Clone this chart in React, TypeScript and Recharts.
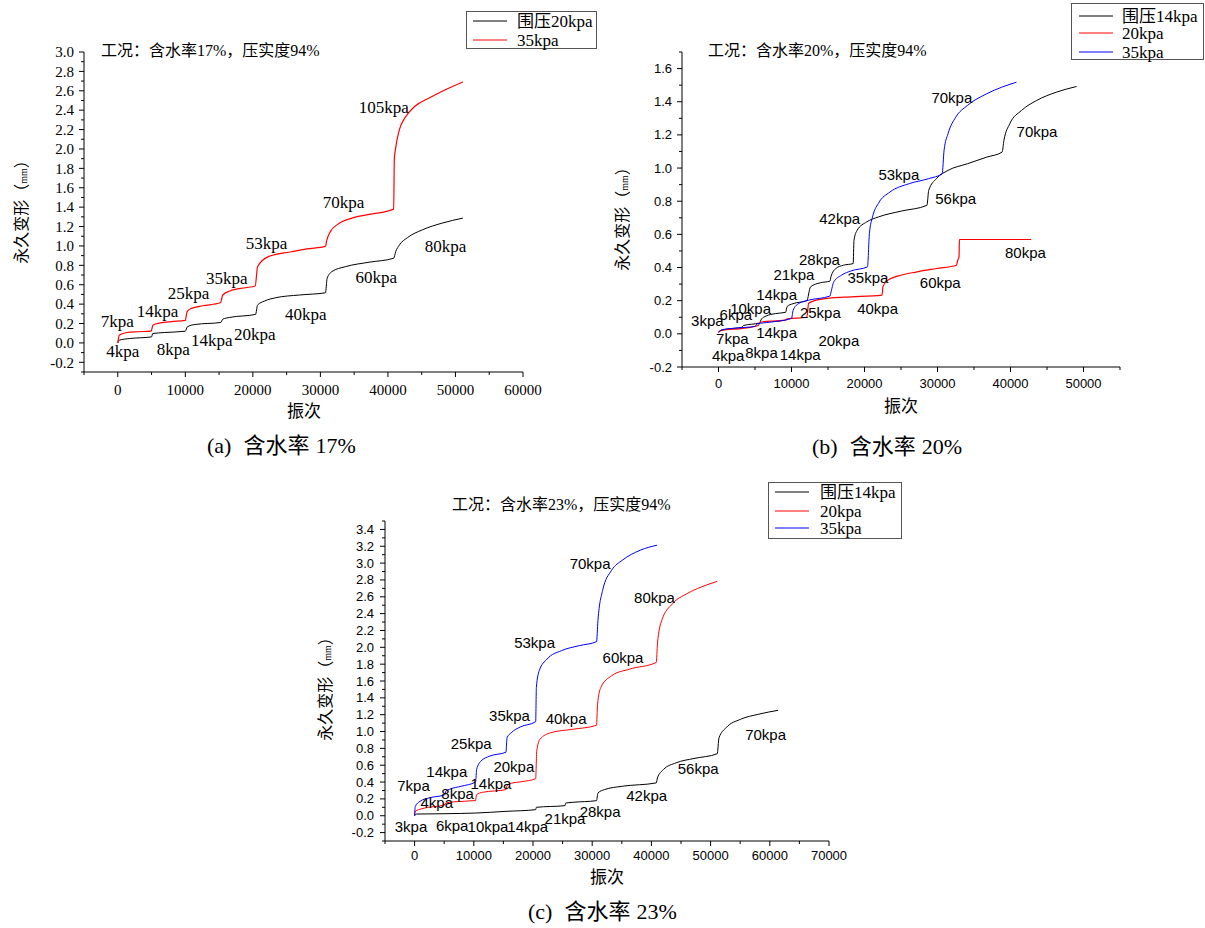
import React from 'react';
import { LineChart, Line, XAxis, YAxis, ReferenceDot } from 'recharts';

type Pt = [number, number];
type Note = { text: string; x: number; y: number };

// (a) 含水率17%
const a20: Pt[] = [
  [0, 0.0], [220, 0.028], [1760, 0.045], [5000, 0.062], [5180, 0.097], [6900, 0.107], [10000, 0.121],
  [10300, 0.166], [11450, 0.19], [15250, 0.211], [15550, 0.245], [16600, 0.263], [20400, 0.294],
  [20700, 0.39], [21700, 0.431], [23400, 0.466], [26900, 0.494], [30750, 0.517], [31000, 0.666],
  [31700, 0.735], [33700, 0.786], [37200, 0.832], [40850, 0.873], [41150, 0.941], [41700, 1.01],
  [42900, 1.086], [45100, 1.166], [48000, 1.235], [51100, 1.287],
];
const a35: Pt[] = [
  [0, 0.0], [220, 0.08], [1200, 0.105], [3000, 0.115], [4950, 0.122], [5200, 0.183], [6300, 0.207],
  [8000, 0.22], [10000, 0.232], [10250, 0.32], [10900, 0.356], [12600, 0.383], [15200, 0.414],
  [15550, 0.494], [16600, 0.535], [18900, 0.569], [20350, 0.587], [20700, 0.786], [22300, 0.89],
  [25700, 0.94], [28000, 0.97], [30750, 0.995], [30950, 1.06], [31500, 1.15], [32500, 1.22],
  [34800, 1.29], [37700, 1.33], [40850, 1.38], [40950, 1.9], [41100, 1.99], [41700, 2.2],
  [42500, 2.32], [44000, 2.44], [46250, 2.53], [48500, 2.61], [51100, 2.69],
];

// (b) 含水率20%
const b14: Pt[] = [
  [0, 0.01], [300, 0.02], [1500, 0.03], [3200, 0.04], [3400, 0.05], [4500, 0.058], [5600, 0.065],
  [5900, 0.09], [6500, 0.107], [7800, 0.122], [9200, 0.13], [9400, 0.165], [10200, 0.182],
  [12100, 0.2], [12600, 0.283], [13950, 0.308], [15270, 0.318], [15400, 0.344], [16070, 0.394],
  [17130, 0.414], [18450, 0.424], [18560, 0.565], [19000, 0.625], [20300, 0.675], [21900, 0.705],
  [25100, 0.741], [28550, 0.775], [28800, 0.866], [29850, 0.936], [31450, 0.986], [34100, 1.026],
  [36750, 1.066], [38850, 1.096], [39100, 1.167], [39900, 1.267], [41500, 1.347], [43600, 1.408],
  [46300, 1.458], [49050, 1.492],
];
const b20: Pt[] = [
  [0, 0.01], [500, 0.022], [3300, 0.033], [5450, 0.05], [5700, 0.07], [9150, 0.083], [9400, 0.09],
  [12100, 0.1], [12350, 0.184], [13400, 0.203], [15500, 0.217], [18200, 0.223], [22400, 0.234],
  [22530, 0.284], [23220, 0.324], [24550, 0.348], [27200, 0.374], [29850, 0.394], [32600, 0.414],
  [32770, 0.444], [32950, 0.464], [33000, 0.569], [42830, 0.569],
];
const b35: Pt[] = [
  [0, 0.01], [500, 0.025], [2500, 0.035], [5000, 0.045], [5300, 0.06], [7000, 0.07], [10000, 0.093],
  [10230, 0.143], [11030, 0.184], [12360, 0.203], [15270, 0.228], [15370, 0.244], [15800, 0.314],
  [16860, 0.354], [18180, 0.38], [20410, 0.404], [20670, 0.605], [21100, 0.705], [21890, 0.786],
  [23480, 0.855], [26130, 0.906], [28780, 0.936], [30640, 0.966], [30900, 1.107], [31440, 1.207],
  [32500, 1.307], [34080, 1.377], [36740, 1.448], [40820, 1.518],
];

// (c) 含水率23%
const c14: Pt[] = [
  [0, 0.0], [300, 0.02], [5140, 0.024], [10280, 0.032], [15430, 0.052], [20450, 0.072], [20570, 0.1],
  [25410, 0.12], [25530, 0.151], [26620, 0.159], [30730, 0.179], [30970, 0.27], [32060, 0.31],
  [35090, 0.35], [40830, 0.39], [41020, 0.449], [42040, 0.549], [44160, 0.628], [47190, 0.68],
  [51120, 0.736], [51420, 0.926], [52630, 1.046], [55050, 1.145], [58080, 1.205], [61400, 1.252],
];
const c20: Pt[] = [
  [0, 0.0], [120, 0.052], [1210, 0.083], [5140, 0.131], [5260, 0.151], [6650, 0.165], [10280, 0.18],
  [10470, 0.25], [11490, 0.278], [15430, 0.31], [15550, 0.35], [16330, 0.385], [18150, 0.405],
  [20450, 0.44], [20630, 0.767], [21170, 0.907], [22990, 0.986], [26620, 1.026], [30730, 1.074],
  [30910, 1.324], [31460, 1.523], [33270, 1.662], [36300, 1.741], [40830, 1.821], [41020, 2.04],
  [41740, 2.318], [43560, 2.517], [45980, 2.636], [48400, 2.716], [51120, 2.783],
];
const c35: Pt[] = [
  [0, 0.0], [120, 0.111], [910, 0.171], [2420, 0.211], [5140, 0.25], [5260, 0.29], [6050, 0.318],
  [7860, 0.35], [10280, 0.4], [10350, 0.43], [10470, 0.549], [11190, 0.648], [12700, 0.708],
  [15430, 0.755], [15610, 0.926], [16330, 0.986], [17850, 1.054], [20450, 1.117], [20570, 1.523],
  [21050, 1.722], [22380, 1.861], [24800, 1.96], [27830, 2.02], [30730, 2.067], [30970, 2.318],
  [31760, 2.676], [33270, 2.914], [35090, 3.034], [38110, 3.153], [40960, 3.213],
];

const notesA: Note[] = [
  { text: '105kpa', x: 39400, y: 2.43 }, { text: '70kpa', x: 33420, y: 1.453 },
  { text: '53kpa', x: 22010, y: 1.028 }, { text: '35kpa', x: 16140, y: 0.673 },
  { text: '25kpa', x: 10490, y: 0.517 }, { text: '14kpa', x: 5870, y: 0.331 },
  { text: '7kpa', x: -70, y: 0.228 }, { text: '4kpa', x: 730, y: -0.086 },
  { text: '8kpa', x: 8200, y: -0.058 }, { text: '14kpa', x: 13910, y: 0.035 },
  { text: '20kpa', x: 20300, y: 0.097 }, { text: '40kpa', x: 27830, y: 0.297 },
  { text: '60kpa', x: 38260, y: 0.677 }, { text: '80kpa', x: 48530, y: 1.0 },
];
const notesB: Note[] = [
  { text: '70kpa', x: 31970, y: 1.427 }, { text: '70kpa', x: 43630, y: 1.217 },
  { text: '53kpa', x: 24710, y: 0.96 }, { text: '56kpa', x: 32490, y: 0.816 },
  { text: '42kpa', x: 16600, y: 0.695 }, { text: '80kpa', x: 42040, y: 0.49 },
  { text: '28kpa', x: 13830, y: 0.448 }, { text: '21kpa', x: 10340, y: 0.354 },
  { text: '35kpa', x: 20470, y: 0.338 }, { text: '60kpa', x: 30380, y: 0.31 },
  { text: '14kpa', x: 7960, y: 0.238 }, { text: '40kpa', x: 21790, y: 0.153 },
  { text: '10kpa', x: 4400, y: 0.153 }, { text: '6kpa', x: 2380, y: 0.113 },
  { text: '25kpa', x: 13950, y: 0.129 }, { text: '3kpa', x: -1530, y: 0.077 },
  { text: '7kpa', x: 1900, y: -0.027 }, { text: '14kpa', x: 7960, y: 0.009 },
  { text: '20kpa', x: 16490, y: -0.042 }, { text: '4kpa', x: 1330, y: -0.132 },
  { text: '8kpa', x: 5890, y: -0.114 }, { text: '14kpa', x: 11190, y: -0.128 },
];
const notesC: Note[] = [
  { text: '70kpa', x: 29640, y: 2.994 }, { text: '80kpa', x: 40530, y: 2.584 },
  { text: '53kpa', x: 20270, y: 2.052 }, { text: '60kpa', x: 35210, y: 1.881 },
  { text: '35kpa', x: 16030, y: 1.185 }, { text: '40kpa', x: 25590, y: 1.157 },
  { text: '25kpa', x: 9560, y: 0.859 }, { text: '70kpa', x: 59290, y: 0.966 },
  { text: '20kpa', x: 16760, y: 0.58 }, { text: '56kpa', x: 47910, y: 0.561 },
  { text: '14kpa', x: 5440, y: 0.521 }, { text: '14kpa', x: 12890, y: 0.382 },
  { text: '7kpa', x: -180, y: 0.362 }, { text: '8kpa', x: 7260, y: 0.258 },
  { text: '42kpa', x: 39200, y: 0.239 }, { text: '4kpa', x: 3750, y: 0.151 },
  { text: '28kpa', x: 31340, y: 0.044 }, { text: '21kpa', x: 25410, y: -0.036 },
  { text: '3kpa', x: -600, y: -0.135 }, { text: '6kpa', x: 6350, y: -0.115 },
  { text: '10kpa', x: 12400, y: -0.135 }, { text: '14kpa', x: 19120, y: -0.135 },
];

// ticks
const xMajA = [0, 10000, 20000, 30000, 40000, 50000, 60000];
const xMinA = [-5000, 5000, 15000, 25000, 35000, 45000, 55000];
const yMajA = [-0.2, 0, 0.2, 0.4, 0.6, 0.8, 1.0, 1.2, 1.4, 1.6, 1.8, 2.0, 2.2, 2.4, 2.6, 2.8, 3.0];
const yMinA = [-0.3, -0.1, 0.1, 0.3, 0.5, 0.7, 0.9, 1.1, 1.3, 1.5, 1.7, 1.9, 2.1, 2.3, 2.5, 2.7, 2.9];
const xMajB = [0, 10000, 20000, 30000, 40000, 50000];
const xMinB = [-5000, 5000, 15000, 25000, 35000, 45000, 55000];
const yMajB = [-0.2, 0, 0.2, 0.4, 0.6, 0.8, 1.0, 1.2, 1.4, 1.6];
const yMinB = [-0.1, 0.1, 0.3, 0.5, 0.7, 0.9, 1.1, 1.3, 1.5, 1.7];
const xMajC = [0, 10000, 20000, 30000, 40000, 50000, 60000, 70000];
const xMinC = [-5000, 5000, 15000, 25000, 35000, 45000, 55000, 65000];
const yMajC = [-0.2, 0, 0.2, 0.4, 0.6, 0.8, 1.0, 1.2, 1.4, 1.6, 1.8, 2.0, 2.2, 2.4, 2.6, 2.8, 3.0, 3.2, 3.4];
const yMinC = [-0.3, -0.1, 0.1, 0.3, 0.5, 0.7, 0.9, 1.1, 1.3, 1.5, 1.7, 1.9, 2.1, 2.3, 2.5, 2.7, 2.9, 3.1, 3.3, 3.5];

const SERIF = '"Liberation Serif", "Noto Sans CJK SC", serif';
const SANS = '"Liberation Sans", Arial, sans-serif';

const rows = (pts: Pt[]) => pts.map(([x, y]) => ({ x, y }));

const makeTick = (majors: number[], dir: 'x' | 'y', font: string, size: number, gap: number) =>
  (props: any) => {
    const { x, y, payload } = props;
    const v = payload.value as number;
    const major = majors.some((m) => Math.abs(m - v) < 1e-6);
    const len = major ? 5 : 3;
    if (dir === 'y') {
      return (
        <g>
          <line x1={x} y1={y} x2={x - len} y2={y} stroke="#000" strokeWidth={1} />
          {major && (
            <text x={x - gap} y={y} dy="0.35em" textAnchor="end" fontFamily={font} fontSize={size} fill="#000">
              {v.toFixed(1)}
            </text>
          )}
        </g>
      );
    }
    return (
      <g>
        <line x1={x} y1={y} x2={x} y2={y + len} stroke="#000" strokeWidth={1} />
        {major && (
          <text x={x} y={y + gap} dy="0.35em" textAnchor="middle" fontFamily={font} fontSize={size} fill="#000">
            {String(v)}
          </text>
        )}
      </g>
    );
  };

type Series = { pts: Pt[]; color: string; width: number };

type PanelProps = {
  left: number; top: number; width: number; height: number;
  yW: number; xH: number; mTop: number; mRight: number;
  xDomain: [number, number]; yDomain: [number, number];
  xMaj: number[]; xMin: number[]; yMaj: number[]; yMin: number[];
  tickFont: string; tickSize: number; xGap: number; yGap: number;
  series: Series[]; notes: Note[]; noteFont: string; noteSize: number;
};

const Panel = (p: PanelProps) => (
  <div style={{ position: 'absolute', left: p.left, top: p.top }}>
    <LineChart width={p.width} height={p.height} margin={{ top: p.mTop, right: p.mRight, left: 0, bottom: 0 }}>
      <XAxis
        type="number"
        dataKey="x"
        domain={p.xDomain}
        ticks={[...p.xMin, ...p.xMaj]}
        interval={0}
        height={p.xH}
        tickSize={0}
        tickMargin={0}
        tickLine={false}
        axisLine={{ stroke: '#000' }}
        allowDataOverflow
        tick={makeTick(p.xMaj, 'x', p.tickFont, p.tickSize, p.xGap)}
      />
      <YAxis
        type="number"
        dataKey="y"
        domain={p.yDomain}
        ticks={[...p.yMin, ...p.yMaj]}
        interval={0}
        width={p.yW}
        tickSize={0}
        tickMargin={0}
        tickLine={false}
        axisLine={{ stroke: '#000' }}
        allowDataOverflow
        tick={makeTick(p.yMaj, 'y', p.tickFont, p.tickSize, p.yGap)}
      />
      {p.series.map((s, i) => (
        <Line
          key={i}
          data={rows(s.pts)}
          dataKey="y"
          type="monotone"
          stroke={s.color}
          strokeWidth={s.width}
          dot={false}
          activeDot={false}
          isAnimationActive={false}
        />
      ))}
      {p.notes.map((n, i) => (
        <ReferenceDot
          key={'n' + i}
          x={n.x}
          y={n.y}
          r={0}
          fill="none"
          stroke="none"
          ifOverflow="visible"
          label={{ value: n.text, position: 'center', fill: '#000', fontSize: p.noteSize, fontFamily: p.noteFont }}
        />
      ))}
    </LineChart>
  </div>
);

type LegendProps = { x: number; y: number; w: number; h: number; lx: number; tx: number; rowsY: number[]; items: { label: string; color: string }[] };

const LegendBox = (l: LegendProps) => (
  <g>
    <rect x={l.x + 0.5} y={l.y + 0.5} width={l.w} height={l.h} fill="#fff" stroke="#555" strokeWidth={1} />
    {l.items.map((it, i) => (
      <g key={i}>
        <line x1={l.x + l.lx} x2={l.x + l.lx + 34} y1={l.y + l.rowsY[i]} y2={l.y + l.rowsY[i]} stroke={it.color} strokeWidth={1} />
        <text x={l.x + l.tx} y={l.y + l.rowsY[i]} dy="0.36em" fontFamily={SERIF} fontSize={17} fill="#000">
          {it.label}
        </text>
      </g>
    ))}
  </g>
);

const YLabel = ({ cx, cy }: { cx: number; cy: number }) => (
  <text
    x={cx}
    y={cy}
    dy="0.36em"
    textAnchor="middle"
    transform={`rotate(-90 ${cx} ${cy})`}
    fontFamily={SERIF}
    fontSize={16}
    fill="#000"
  >
    永久变形（<tspan fontSize={10}>mm</tspan>）
  </text>
);

const Caption = ({ x, cy, tag, pct }: { x: number; cy: number; tag: string; pct: string }) => (
  <text x={x} y={cy} dy="0.36em" fontFamily={SERIF} fontSize={22} fill="#000">
    {tag}
    <tspan dx={12}>含水率</tspan>
    <tspan dx={6}>{pct}</tspan>
  </text>
);

export default function App() {
  return (
    <div style={{ position: 'absolute', left: 0, top: 0, width: 1205, height: 928, background: '#fff', overflow: 'hidden' }}>
      <Panel
        left={0} top={0} width={600} height={460} yW={84} xH={88} mTop={52} mRight={77}
        xDomain={[-5000, 60000]} yDomain={[-0.3, 3.0]}
        xMaj={xMajA} xMin={xMinA} yMaj={yMajA} yMin={yMinA}
        tickFont={SERIF} tickSize={15} xGap={18} yGap={10}
        series={[{ pts: a20, color: '#000', width: 1 }, { pts: a35, color: '#ff0000', width: 1.2 }]}
        notes={notesA} noteFont={SERIF} noteSize={17}
      />
      <Panel
        left={600} top={0} width={605} height={460} yW={82} xH={93} mTop={52} mRight={85}
        xDomain={[-5000, 55000]} yDomain={[-0.2, 1.7]}
        xMaj={xMajB} xMin={xMinB} yMaj={yMajB} yMin={yMinB}
        tickFont={SANS} tickSize={13} xGap={16} yGap={10}
        series={[
          { pts: b14, color: '#000', width: 1 },
          { pts: b20, color: '#ff0000', width: 1.2 },
          { pts: b35, color: '#0000ff', width: 1 },
        ]}
        notes={notesB} noteFont={SANS} noteSize={15}
      />
      <Panel
        left={300} top={470} width={560} height={458} yW={85} xH={87} mTop={51} mRight={31}
        xDomain={[-5000, 70000]} yDomain={[-0.3, 3.5]}
        xMaj={xMajC} xMin={xMinC} yMaj={yMajC} yMin={yMinC}
        tickFont={SANS} tickSize={13} xGap={14} yGap={11}
        series={[
          { pts: c14, color: '#000', width: 1 },
          { pts: c20, color: '#ff0000', width: 1 },
          { pts: c35, color: '#0000ff', width: 1 },
        ]}
        notes={notesC} noteFont={SANS} noteSize={15}
      />
      <svg width={1205} height={928} style={{ position: 'absolute', left: 0, top: 0, pointerEvents: 'none' }}>
        <text x={101} y={50} dy="0.36em" fontFamily={SERIF} fontSize={16} fill="#000">工况：含水率17%，压实度94%</text>
        <text x={708} y={50} dy="0.36em" fontFamily={SERIF} fontSize={16} fill="#000">工况：含水率20%，压实度94%</text>
        <text x={452} y={504} dy="0.36em" fontFamily={SERIF} fontSize={16} fill="#000">工况：含水率23%，压实度94%</text>

        <text x={304} y={411} dy="0.36em" textAnchor="middle" fontFamily={SERIF} fontSize={17} fill="#000">振次</text>
        <text x={901} y={406} dy="0.36em" textAnchor="middle" fontFamily={SERIF} fontSize={17} fill="#000">振次</text>
        <text x={607} y={877} dy="0.36em" textAnchor="middle" fontFamily={SERIF} fontSize={17} fill="#000">振次</text>

        <YLabel cx={21} cy={208} />
        <YLabel cx={622} cy={215} />
        <YLabel cx={325} cy={685} />

        <Caption x={207} cy={445} tag="(a)" pct="17%" />
        <Caption x={812} cy={446} tag="(b)" pct="20%" />
        <Caption x={528} cy={911} tag="(c)" pct="23%" />

        <LegendBox
          x={466} y={11} w={130} h={37} lx={7} tx={51} rowsY={[10, 29]}
          items={[{ label: '围压20kpa', color: '#000' }, { label: '35kpa', color: '#ff0000' }]}
        />
        <LegendBox
          x={1071} y={3} w={132} h={56} lx={8} tx={51} rowsY={[13, 30, 49]}
          items={[{ label: '围压14kpa', color: '#000' }, { label: '20kpa', color: '#ff0000' }, { label: '35kpa', color: '#0000ff' }]}
        />
        <LegendBox
          x={768} y={482} w={133} h={56} lx={7} tx={52} rowsY={[10, 29, 46]}
          items={[{ label: '围压14kpa', color: '#000' }, { label: '20kpa', color: '#ff0000' }, { label: '35kpa', color: '#0000ff' }]}
        />
      </svg>
    </div>
  );
}
